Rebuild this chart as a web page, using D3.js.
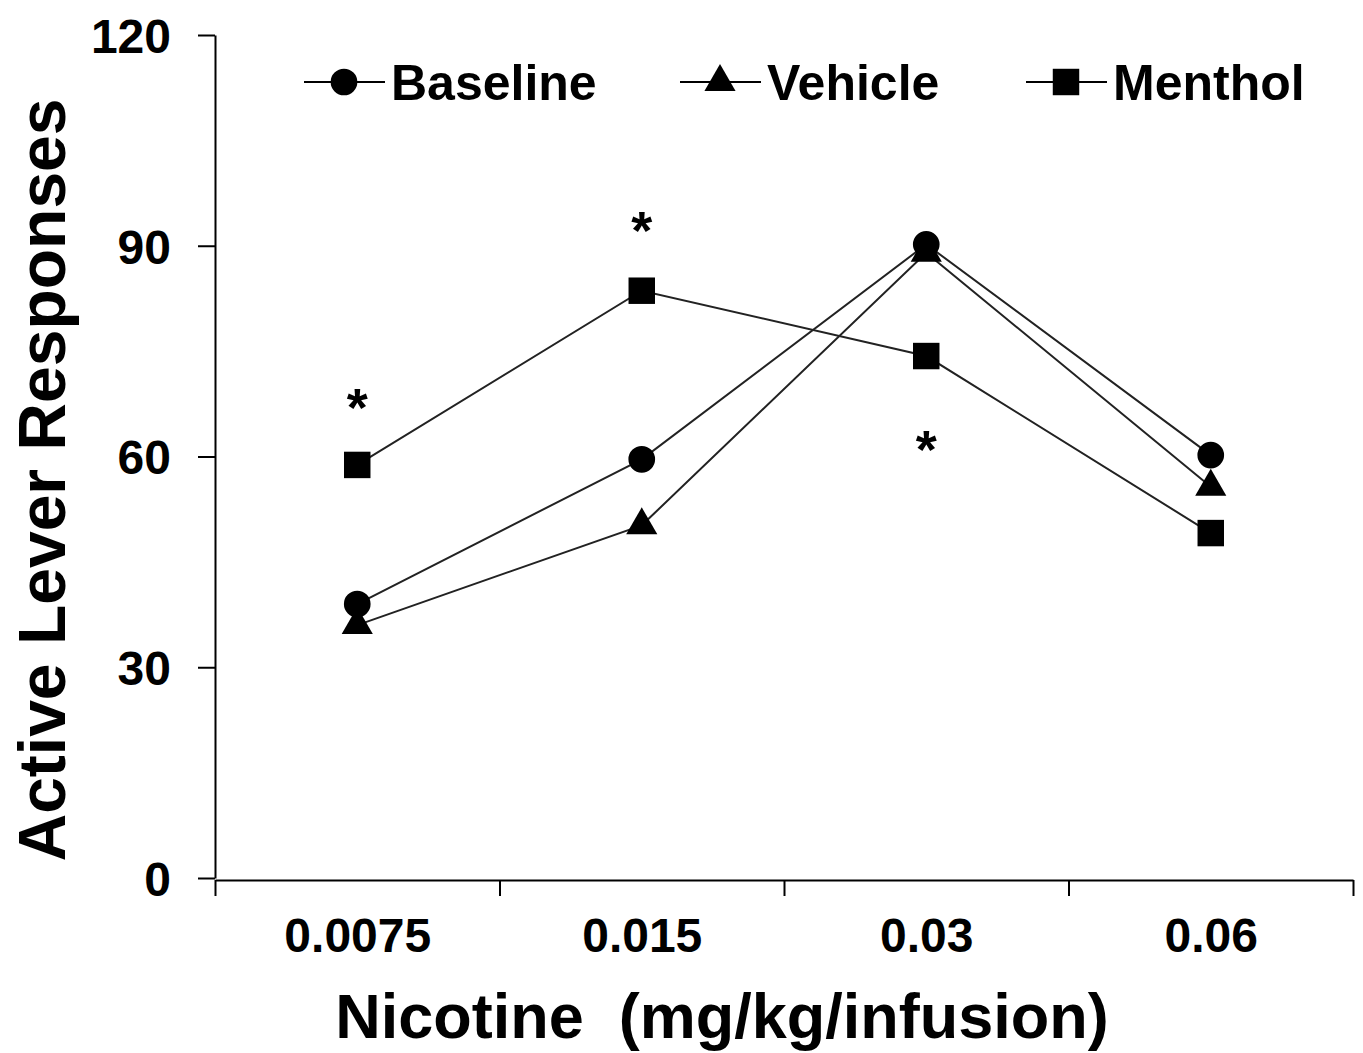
<!DOCTYPE html>
<html>
<head>
<meta charset="utf-8">
<script src="https://cdn.jsdelivr.net/npm/d3@7"></script>
<style>
  body { margin: 0; background: #fff; }
  svg text { font-family: "Liberation Sans", Arial, sans-serif; font-weight: bold; fill: #000; }
</style>
</head>
<body>
<svg id="chart" width="1363" height="1053"></svg>
<script>
const doses = ["0.0075", "0.015", "0.03", "0.06"];
const baseline = [39, 59.6, 90.2, 60.2];
const vehicle = [36, 50.2, 89, 55.7];
const menthol = [58.8, 83.6, 74.3, 49.1];
const yTicks = [0, 30, 60, 90, 120];
// asterisks: dose and y value (centre of the star)
const starDoses = ["0.0075", "0.015", "0.03"];
const starValues = [68.5, 93.7, 62.6];

const MARGIN = { top: 35, right: 10, bottom: 175, left: 215 };
const width = 1353 - MARGIN.left;
const height = 878 - MARGIN.top;

const svg = d3.select("#chart");
const g = svg.append("g").attr("transform", `translate(${MARGIN.left},${MARGIN.top})`);

const x = d3.scalePoint().domain(doses).range([0, width]).padding(0.5);
const xEdge = d3.scaleLinear().domain([0, doses.length]).range([0, width]);
const y = d3.scaleLinear().domain([0, 120]).range([height, 0]);

// y axis
const yAxis = g.append("g")
  .call(d3.axisLeft(y).tickValues(yTicks).tickSize(17).tickSizeOuter(0).tickPadding(27));
yAxis.select(".domain").attr("stroke", "#000").attr("stroke-width", 2);
yAxis.selectAll(".tick line").attr("stroke", "#000").attr("stroke-width", 2);
yAxis.selectAll(".tick text").style("font-size", "48px").attr("dy", "0.36em");

// x axis: ticks at band edges
const xAxis = g.append("g")
  .attr("transform", `translate(0,${height + 2})`)
  .call(d3.axisBottom(xEdge).tickValues(d3.range(doses.length + 1)).tickSize(16).tickSizeOuter(0).tickFormat(""));
xAxis.select(".domain").attr("stroke", "#000").attr("stroke-width", 2);
xAxis.selectAll(".tick line").attr("stroke", "#000").attr("stroke-width", 2);

const xLab = g.append("g")
  .attr("transform", `translate(0,${height + 2})`)
  .call(d3.axisBottom(x).tickSize(0).tickPadding(38));
xLab.select(".domain").remove();
xLab.selectAll(".tick text").style("font-size", "48px");

// axis titles
svg.append("text")
  .attr("x", 722).attr("y", 1038)
  .attr("text-anchor", "middle")
  .style("font-size", "63px")
  .style("white-space", "pre")
  .text("Nicotine  (mg/kg/infusion)");

svg.append("text")
  .attr("transform", "translate(65,480) rotate(-90)")
  .attr("text-anchor", "middle")
  .style("font-size", "66px")
  .text("Active Lever Responses");

// series
const series = [
  { name: "Baseline", values: baseline, shape: d3.symbolCircle },
  { name: "Vehicle", values: vehicle, shape: d3.symbolTriangle },
  { name: "Menthol", values: menthol, shape: d3.symbolSquare }
];
const symSize = { Baseline: 560, Vehicle: 420, Menthol: 700 };

const line = d3.line().x((d, i) => x(doses[i])).y(d => y(d));

series.forEach(s => {
  g.append("path")
    .datum(s.values)
    .attr("fill", "none")
    .attr("stroke", "#222")
    .attr("stroke-width", 2)
    .attr("d", line);
});
series.forEach(s => {
  g.selectAll(null)
    .data(s.values)
    .enter().append("path")
    .attr("transform", (d, i) => `translate(${x(doses[i])},${y(d)})`)
    .attr("d", d3.symbol().type(s.shape).size(symSize[s.name]))
    .attr("fill", "#000");
});

// asterisks
g.selectAll("text.star")
  .data(starValues)
  .enter().append("text")
  .attr("class", "star")
  .attr("x", (d, i) => x(starDoses[i]))
  .attr("y", d => y(d))
  .attr("dy", "0.55em")
  .attr("text-anchor", "middle")
  .style("font-size", "54px")
  .text("*");

// legend
const legX = [304, 680, 1026];
const legY = 82;
series.forEach((s, i) => {
  const lg = svg.append("g").attr("transform", `translate(${legX[i]},${legY})`);
  lg.append("line").attr("x1", 0).attr("x2", 81).attr("y1", 0).attr("y2", 0)
    .attr("stroke", "#000").attr("stroke-width", 2);
  lg.append("path")
    .attr("transform", "translate(40,0)")
    .attr("d", d3.symbol().type(s.shape).size(symSize[s.name]))
    .attr("fill", "#000");
  lg.append("text")
    .attr("x", 87).attr("y", 0).attr("dy", "0.36em")
    .style("font-size", "50px")
    .text(s.name);
});
</script>
</body>
</html>
